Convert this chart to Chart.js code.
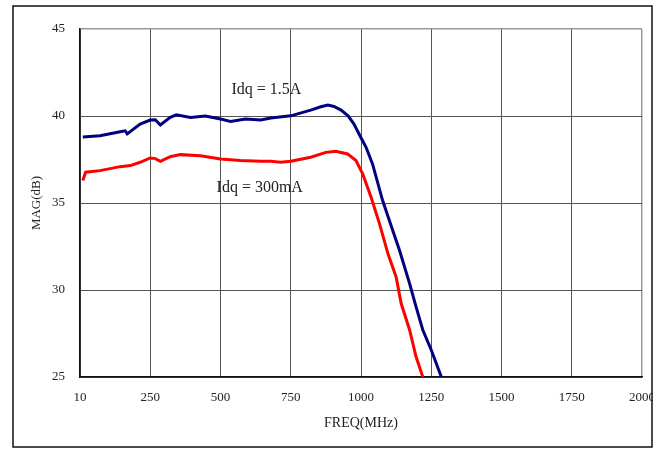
<!DOCTYPE html>
<html>
<head>
  <meta charset="UTF-8">
  <title>MAG vs FREQ</title>
  <script src="https://cdn.jsdelivr.net/npm/chart.js@4.4.1/dist/chart.umd.min.js"></script>
  <style>
    html, body { margin: 0; padding: 0; background: #fff; }
  </style>
</head>
<body>
  <canvas id="magChart" width="662" height="449"></canvas>
<script>
  // 読み取った値 (MHz, dB)
  const freqHigh = [10, 71, 143, 161, 168, 214, 250, 268, 286, 321, 343, 393, 446, 500, 536, 589, 643, 679, 750, 821, 857, 882, 904, 929, 954, 975, 1000, 1018, 1041, 1077, 1113, 1137, 1173, 1196, 1220, 1250, 1286];
  const magHigh = [38.8, 38.87, 39.1, 39.15, 38.97, 39.54, 39.77, 39.78, 39.48, 39.92, 40.07, 39.92, 40.0, 39.83, 39.69, 39.83, 39.77, 39.88, 40.01, 40.34, 40.53, 40.63, 40.55, 40.34, 40.01, 39.54, 38.75, 38.2, 37.25, 35.14, 33.42, 32.28, 30.37, 29.03, 27.7, 26.55, 25.0];

  const freqLow = [10, 20, 71, 143, 179, 214, 250, 268, 286, 321, 357, 429, 500, 571, 643, 679, 714, 750, 821, 875, 911, 952, 982, 1006, 1036, 1066, 1096, 1125, 1143, 1173, 1196, 1220];
  const magLow = [36.29, 36.77, 36.86, 37.09, 37.15, 37.34, 37.59, 37.55, 37.4, 37.66, 37.78, 37.72, 37.53, 37.44, 37.4, 37.4, 37.34, 37.4, 37.63, 37.91, 37.97, 37.82, 37.44, 36.67, 35.33, 33.8, 32.08, 30.75, 29.22, 27.7, 26.16, 25.0];

  const seriesNames = ["Idq = 1.5A", "Idq = 300mA"];
  const xTickValues = [0, 250, 500, 750, 1000, 1250, 1500, 1750, 2000];
  const xTickLabels = ["10", "250", "500", "750", "1000", "1250", "1500", "1750", "2000"];
  const yTickValues = [25, 30, 35, 40, 45];

  // ラベルの置き場所 (データ座標)
  const labelAnchors = [[539, 41.5], [486, 35.9]];

  const toPoints = (xs, ys) => xs.map((x, i) => ({ x: x, y: ys[i] }));

  const textColor = "#222";
  const serif = "'Liberation Serif', 'Times New Roman', serif";

  const framePlugin = {
    id: "frame",
    beforeDraw(chart) {
      const ctx = chart.ctx;
      ctx.save();
      ctx.fillStyle = "#fff";
      ctx.fillRect(0, 0, chart.width, chart.height);
      ctx.restore();
    },
    afterDraw(chart) {
      const ctx = chart.ctx;
      const xs = chart.scales.x, ys = chart.scales.y;
      ctx.save();
      // 曲線の名前
      ctx.fillStyle = textColor;
      ctx.font = "16px " + serif;
      ctx.textBaseline = "middle";
      ctx.textAlign = "left";
      labelAnchors.forEach((a, i) => {
        ctx.fillText(seriesNames[i], xs.getPixelForValue(a[0]), ys.getPixelForValue(a[1]));
      });
      // 外枠 (右端の 2000 は枠で切れている)
      ctx.fillStyle = "#fff";
      ctx.fillRect(653, 0, chart.width - 653, chart.height);
      ctx.strokeStyle = "#111";
      ctx.lineWidth = 1.5;
      ctx.strokeRect(13, 6, 639, 441);
      ctx.restore();
    }
  };

  new Chart(document.getElementById("magChart"), {
    type: "line",
    data: {
      datasets: [{
        label: seriesNames[0],
        data: toPoints(freqHigh, magHigh),
        borderColor: "#000080",
        borderWidth: 3,
        pointRadius: 0,
        tension: 0
      }, {
        label: seriesNames[1],
        data: toPoints(freqLow, magLow),
        borderColor: "#ff0000",
        borderWidth: 3,
        pointRadius: 0,
        tension: 0
      }]
    },
    options: {
      responsive: false,
      animation: false,
      events: [],
      layout: { padding: { left: 13, top: 29, right: 20, bottom: 2 } },
      plugins: {
        legend: { display: false },
        tooltip: { enabled: false }
      },
      scales: {
        x: {
          type: "linear",
          min: 0,
          max: 2000,
          afterBuildTicks: axis => { axis.ticks = xTickValues.map(v => ({ value: v })); },
          afterFit: axis => {
            axis.height = 70;
            axis.paddingLeft = 0;
            axis.paddingRight = 0;
          },
          ticks: {
            padding: 13,
            color: textColor,
            font: { family: serif, size: 13 },
            maxRotation: 0,
            callback: (v) => xTickLabels[xTickValues.indexOf(v)]
          },
          grid: {
            drawTicks: false,
            color: ctx => ctx.index === xTickValues.length - 1 ? "#999" : "#555",
            lineWidth: ctx => ctx.index === xTickValues.length - 1 ? 1.5 : 1
          },
          border: { color: "#111", width: 1.5 },
          title: {
            display: true,
            text: "FREQ(MHz)",
            color: textColor,
            font: { family: serif, size: 14 },
            padding: { top: 0, bottom: 15.6 }
          }
        },
        y: {
          min: 25,
          max: 45,
          afterBuildTicks: axis => { axis.ticks = yTickValues.map(v => ({ value: v })); },
          afterFit: axis => {
            axis.width = 67;
            axis.paddingTop = 0;
            axis.paddingBottom = 0;
          },
          ticks: {
            padding: 15,
            color: textColor,
            font: { family: serif, size: 13 }
          },
          grid: {
            drawTicks: false,
            color: ctx => ctx.index === yTickValues.length - 1 ? "#999" : "#555",
            lineWidth: ctx => ctx.index === yTickValues.length - 1 ? 1.5 : 1
          },
          border: { color: "#111", width: 1.5 },
          title: {
            display: true,
            text: "MAG(dB)",
            color: textColor,
            font: { family: serif, size: 13 },
            padding: { top: 15.7, bottom: 0 }
          }
        }
      }
    },
    plugins: [framePlugin]
  });
</script>
</body>
</html>
